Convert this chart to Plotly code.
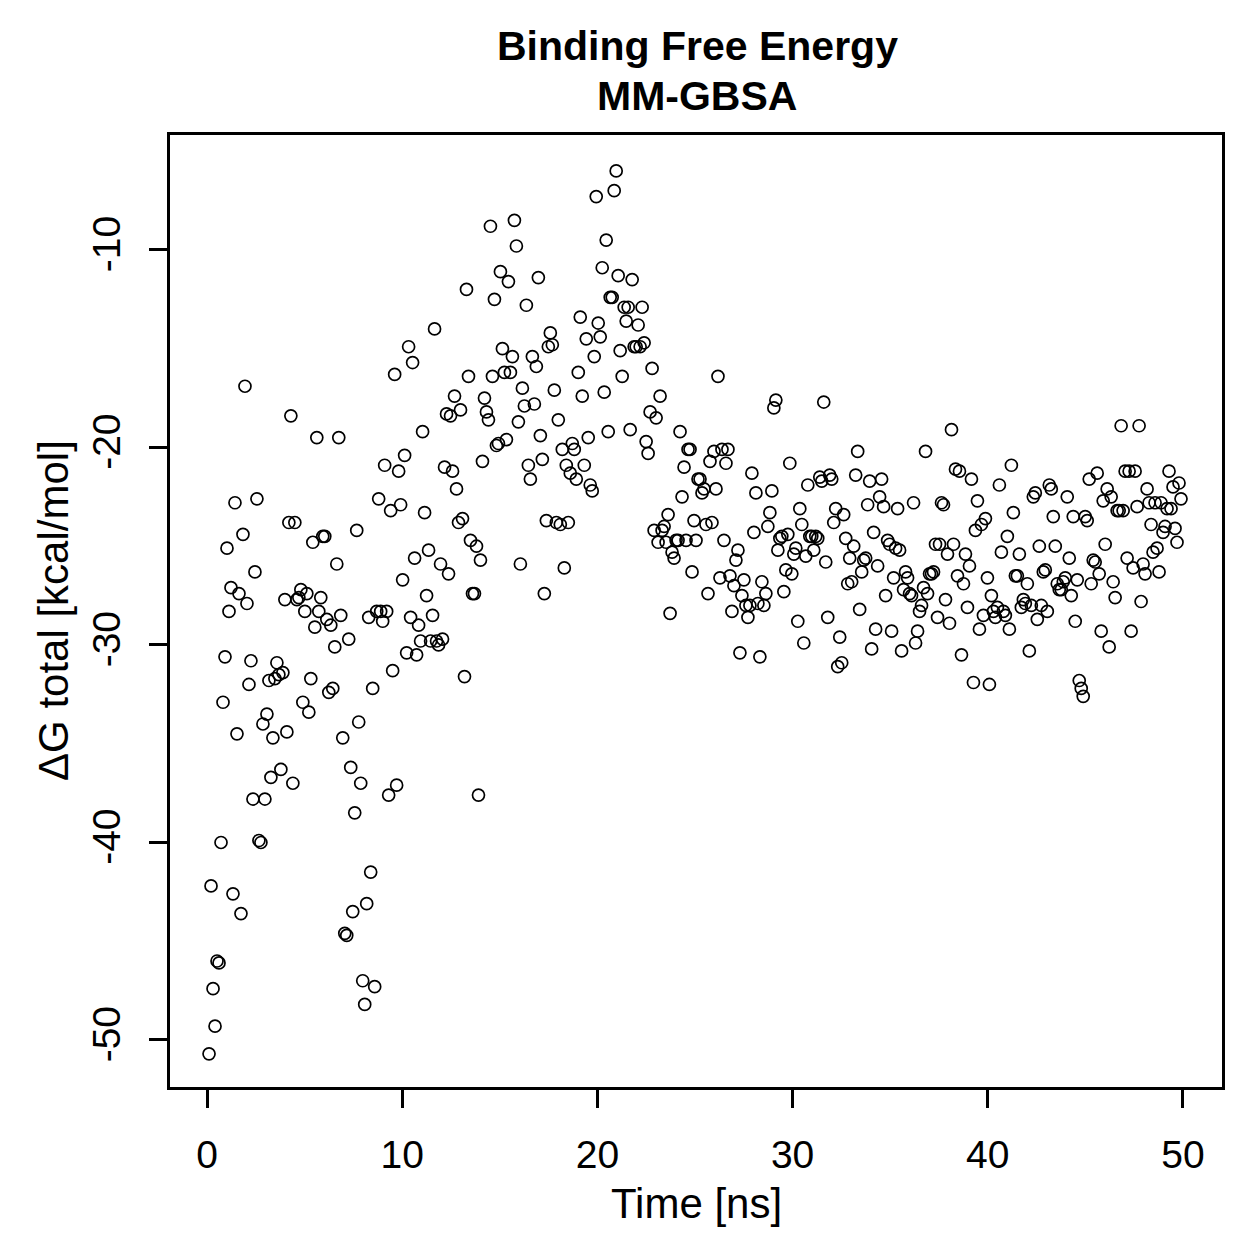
import plotly.graph_objects as go

# ΔG total values (kcal/mol), read in time order from the reference
dg_block1 = [-50.7, -42.2, -47.4, -49.3, -46.0, -46.1, -40.0, -32.9, -30.6, -25.1, -28.3, -27.1, -42.6, -22.8, -34.5, -27.4, -43.6, -24.4, -16.9, -27.9, -32.0, -30.8, -37.8, -26.3, -22.6, -39.9, -40.0, -34.0, -37.8, -33.5, -31.8, -36.7, -34.7, -31.7, -30.9, -31.5, -36.3, -31.4, -27.7, -34.4, -23.8, -18.4, -37.0, -23.8, -27.7, -27.6, -27.2, -32.9, -28.3, -27.4, -33.4]
dg_block2 = [-31.7, -24.8, -29.1, -19.5, -28.3, -27.6, -24.5, -24.5, -28.7, -32.4, -29.0, -32.2, -30.1, -25.9, -19.5, -28.5, -34.7, -44.6, -44.7, -29.7, -36.2, -43.5, -38.5, -24.2, -33.9, -37.0, -47.0, -48.2, -43.1, -28.6, -41.5, -32.2, -47.3, -28.3, -22.6, -28.3, -28.8, -20.9, -28.3, -37.6, -23.2, -31.3, -16.3, -37.1, -21.2, -22.9, -26.7, -20.4, -30.4, -14.9]
dg_block3 = [-28.6, -15.7, -25.6, -30.5, -29.0, -29.8, -19.2, -23.3, -27.5, -25.2, -29.8, -28.5, -14.0, -29.8, -30.0, -25.9, -29.7, -21.0, -18.3, -26.4, -18.4, -21.2, -17.4, -22.1, -23.8, -18.1, -23.6, -31.6, -12.0, -16.4, -24.7, -27.4, -27.4, -25.0, -37.6, -25.7, -20.7, -17.5, -18.2, -18.6, -8.8, -16.4, -12.5, -19.9, -19.8, -11.1, -15.0, -16.2, -19.6, -11.6]
dg_block4 = [-16.2, -15.4, -8.5, -9.8, -18.7, -25.9, -17.0, -17.9, -12.8, -20.9, -21.6, -15.4, -17.8, -15.9, -11.4, -19.4, -20.6, -27.4, -23.7, -14.9, -14.2, -14.8, -17.1, -23.8, -18.6, -23.9, -20.1, -26.1, -20.9, -23.8, -21.3, -19.8, -20.1, -21.6, -16.2, -13.4, -17.4, -20.9, -14.5, -19.5, -21.9, -22.2, -15.4, -7.3, -13.7, -14.4, -10.9, -17.2, -9.5, -19.2]
dg_block5 = [-12.4, -12.4, -7.0, -6.0, -11.3, -15.1, -16.4, -12.9, -13.6, -12.9, -19.1, -11.5, -14.9, -14.9, -13.8, -14.9, -12.9, -14.7, -19.7, -20.3, -18.2, -16.0, -24.2, -18.5, -24.8, -17.4, -24.2, -24.0, -24.8, -23.4, -28.4, -25.3, -25.6, -24.7, -24.7, -19.2, -22.5, -21.0, -24.7, -20.1, -20.1, -26.3, -23.7, -24.7, -21.6, -21.6, -22.3, -22.1, -23.9, -27.4]
dg_block6 = [-20.7, -23.8, -20.2, -22.1, -16.4, -26.6, -20.1, -24.7, -20.8, -20.1, -26.5, -28.3, -27.0, -25.7, -25.2, -30.4, -27.5, -26.7, -28.0, -28.6, -28.0, -21.3, -24.3, -22.3, -27.9, -30.6, -26.8, -28.0, -27.4, -24.0, -23.3, -22.2, -18.0, -17.6, -25.2, -24.6, -24.5, -27.3, -26.2, -24.4, -20.8, -26.4, -25.4, -25.1, -28.8, -23.1, -23.9, -29.9, -25.5, -21.9]
dg_block7 = [-24.5, -24.5, -25.2, -24.5, -24.6, -21.5, -21.7, -17.7, -25.8, -28.6, -21.4, -21.6, -23.8, -23.1, -31.1, -29.6, -30.9, -23.4, -24.6, -26.9, -25.6, -26.8, -25.0, -21.4, -20.2, -28.2, -26.3, -25.7, -25.6, -22.9, -21.7, -30.2, -24.3, -29.2, -26.0, -22.5, -21.6, -23.0, -27.5, -24.7, -24.9, -29.3, -26.6, -25.1, -23.1, -25.2, -30.3, -27.2, -26.3, -26.6]
dg_block8 = [-27.4, -27.5, -22.8, -29.9, -29.3, -28.3, -28.0, -27.1, -20.2, -27.4, -26.4, -26.4, -26.3, -24.9, -28.6, -24.9, -22.8, -22.9, -27.7, -25.4, -28.9, -19.1, -24.9, -21.1, -26.5, -21.2, -30.5, -26.9, -25.4, -28.1, -26.0, -21.6, -31.9, -24.2, -22.7, -29.2, -23.9, -28.5, -23.6, -26.6, -32.0, -27.5, -28.3, -28.6, -28.1, -21.9, -25.3, -28.3, -28.5, -24.5]
dg_block9 = [-29.2, -20.9, -23.3, -26.5, -26.5, -25.4, -28.1, -27.7, -27.9, -26.9, -30.3, -28.0, -22.5, -22.3, -28.7, -25.0, -28.0, -26.3, -26.2, -28.3, -21.9, -22.1, -23.5, -25.0, -26.9, -27.2, -27.2, -26.8, -26.6, -22.5, -25.6, -27.5, -23.5, -28.8, -26.7, -31.8, -32.2, -32.6, -23.5, -23.7, -21.6, -26.9, -25.7, -25.8, -21.3, -26.4, -29.3, -22.7, -24.9, -22.1]
dg_block10 = [-30.1, -22.5, -26.8, -27.6, -23.2, -23.2, -18.9, -23.2, -21.2, -25.6, -21.2, -29.3, -26.1, -21.2, -23.0, -18.9, -27.8, -25.9, -26.4, -22.1, -22.8, -23.9, -25.3, -22.8, -25.1, -26.3, -22.8, -24.3, -24.0, -23.1, -21.2, -23.1, -22.0, -24.1, -24.8, -21.8, -22.6]

dg_total = (dg_block1 + dg_block2 + dg_block3 + dg_block4 + dg_block5 +
            dg_block6 + dg_block7 + dg_block8 + dg_block9 + dg_block10)

# sampling times (ns): regular frames from 0.1 ns to ~49.9 ns
t_start, t_end = 0.1, 49.9
n = len(dg_total)
time_ns = [round(t_start + i * (t_end - t_start) / (n - 1), 3) for i in range(n)]

x_ticks = [0, 10, 20, 30, 40, 50]
y_ticks = [-50, -40, -30, -20, -10]
y_ticktext = ["-50", "-40", "-30", "-20", "-10"]

title_line1 = "Binding Free Energy"
title_line2 = "MM-GBSA"
x_title = "Time [ns]"
y_title = "ΔG total [kcal/mol]"

FONT = "Liberation Sans, Arial, Helvetica, sans-serif"

fig = go.Figure()
fig.add_trace(go.Scatter(
    x=time_ns, y=dg_total, mode="markers",
    marker=dict(symbol="circle-open", size=12, color="black",
                line=dict(color="black", width=1.7)),
    showlegend=False, hoverinfo="x+y",
))

L, R, T, B = 170, 37, 135, 172
W = H = 1259
pw, ph = W - L - R, H - T - B

axis_common = dict(showline=True, linecolor="black", linewidth=2.6, mirror=True,
                   ticks="outside", ticklen=18, tickwidth=2.6, tickcolor="black",
                   showgrid=False, zeroline=False,
                   tickfont=dict(family=FONT, size=39, color="black"))

fig.update_layout(
    width=W, height=H,
    margin=dict(l=L, r=R, t=T, b=B, pad=0),
    paper_bgcolor="white", plot_bgcolor="white",
    font=dict(family=FONT, color="black"),
    xaxis=dict(range=[-1.9, 52.0], tickvals=x_ticks, ticklabelstandoff=13, **axis_common),
    yaxis=dict(range=[-52.38, -4.18], tickvals=y_ticks, ticktext=y_ticktext,
               tickangle=-90, ticklabelstandoff=14, **axis_common),
)

def px_x(px):
    return (px - L) / pw

def px_y(py):
    return (H - B - py) / ph

fig.add_annotation(text="<b>%s</b>" % title_line1, xref="paper", yref="paper",
                   x=px_x(697), y=px_y(46), showarrow=False, xanchor="center",
                   yanchor="middle", font=dict(family=FONT, size=41, color="black"))
fig.add_annotation(text="<b>%s</b>" % title_line2, xref="paper", yref="paper",
                   x=px_x(697), y=px_y(96), showarrow=False, xanchor="center",
                   yanchor="middle", font=dict(family=FONT, size=41, color="black"))
fig.add_annotation(text=x_title, xref="paper", yref="paper",
                   x=px_x(696), y=px_y(1203), showarrow=False, xanchor="center",
                   yanchor="middle", font=dict(family=FONT, size=42, color="black"))
fig.add_annotation(text=y_title, xref="paper", yref="paper",
                   x=px_x(53), y=px_y(611), showarrow=False, xanchor="center",
                   yanchor="middle", textangle=-90,
                   font=dict(family=FONT, size=42, color="black"))

fig.write_html("out.html")
